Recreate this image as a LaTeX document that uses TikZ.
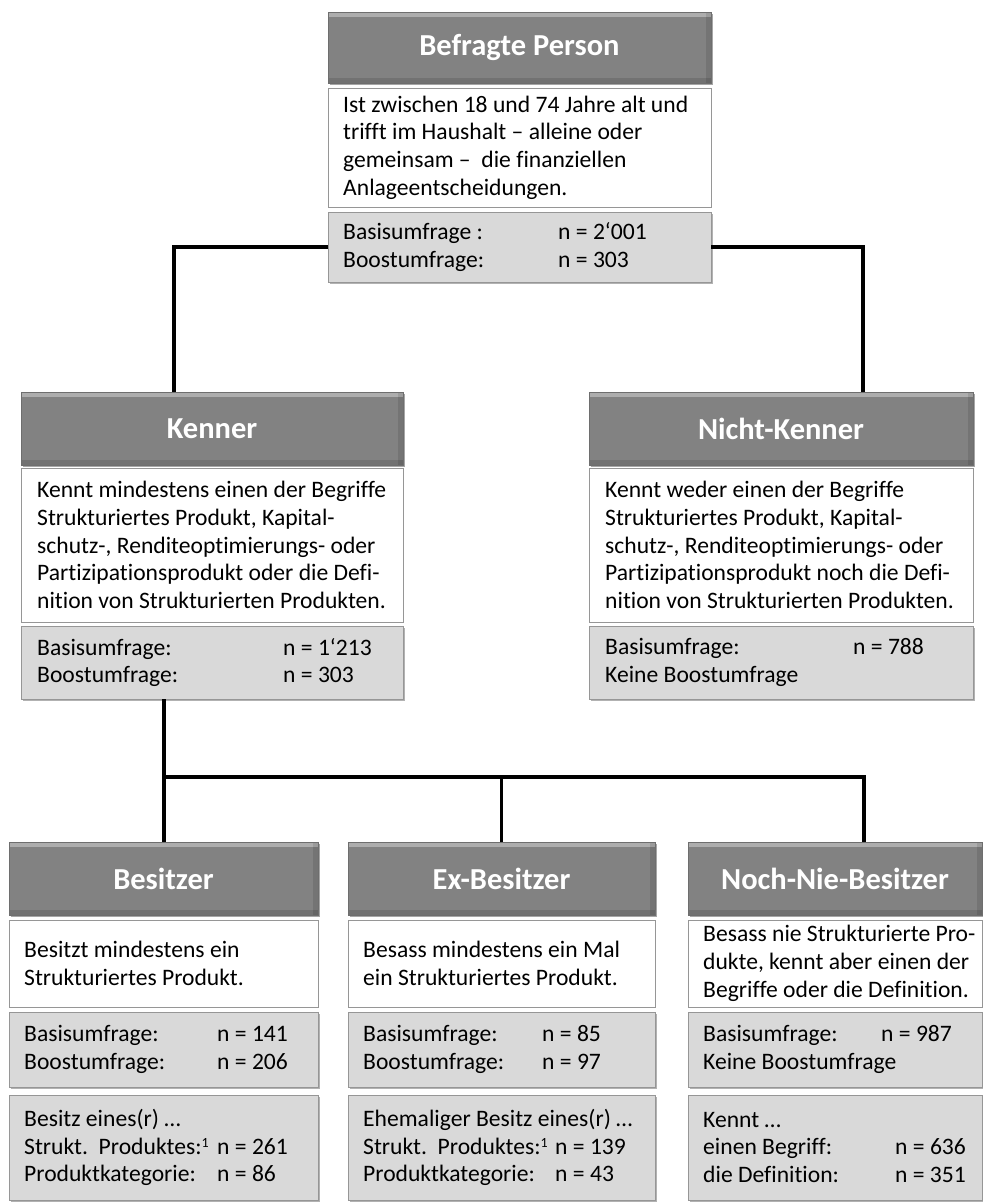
\documentclass[tikz,border=0pt]{standalone}
\usepackage{fontspec}
\setmainfont{Carlito}[Ligatures={TeX,NoCommon}]
\usetikzlibrary{shadows}
\definecolor{hdrfill}{RGB}{130,130,130}
\definecolor{hdrline}{RGB}{110,110,110}
\definecolor{grayfill}{RGB}{217,217,217}
\definecolor{boxline}{RGB}{150,150,150}
\newcommand\mkbox[7]{\node[#2, minimum width={(#5-#3)*1pt}, minimum height={(#6-#4)*1pt}] (#1) at ({(#3+#5)/2},{(#4+#6)/2}) {#7};}
\newcommand\nrow[3]{\makebox[#1][l]{#2}#3}
\newcommand\fnone{\raisebox{7pt}{\fontsize{14}{14}\selectfont 1}}
\tikzset{
  hdr/.style={rectangle, fill=hdrfill, draw=hdrline, line width=0.8pt, text=white,
    font=\fontsize{30.5}{36}\selectfont\bfseries, inner sep=0pt, outer sep=0pt,
    drop shadow={shadow xshift=1.5pt, shadow yshift=-1.5pt, opacity=0.35, fill=black},
    path picture={
      \fill[white,opacity=0.35] (path picture bounding box.north west) rectangle ([yshift=-5pt]path picture bounding box.north east);
      \fill[black,opacity=0.12] ([yshift=5pt]path picture bounding box.south west) rectangle (path picture bounding box.south east);
      \fill[black,opacity=0.10] ([xshift=-5pt]path picture bounding box.north east) rectangle (path picture bounding box.south east);
    }},
  wbox/.style={rectangle, fill=white, draw=boxline, line width=1pt, inner sep=0pt, outer sep=0pt},
  gbox/.style={rectangle, fill=grayfill, draw=boxline, line width=1pt, inner sep=0pt, outer sep=0pt,
    drop shadow={shadow xshift=1.5pt, shadow yshift=-1.5pt, opacity=0.3, fill=black}},
  txt/.style={anchor=west, align=left, inner sep=0pt, font=\fontsize{23.6}{27.7}\selectfont},
  conn/.style={draw=black, line width=3.5pt}
}
\begin{document}
\begin{tikzpicture}[x=1pt,y=-1pt]
\useasboundingbox (0,0) rectangle (983,1203);
\fill[white] (0,0) rectangle (983,1203);

% top: Befragte Person
\mkbox{p-h}{hdr}{328}{12}{711}{83}{Befragte Person}
\mkbox{p-w}{wbox}{328}{88}{711}{207}{}
\mkbox{p-g}{gbox}{328}{212}{711}{282}{}
\node[txt] (p-wt) at ([xshift=15pt]p-w.west) {Ist zwischen 18 und 74 Jahre alt und\\trifft im Haushalt – alleine oder\\gemeinsam –\ \ die finanziellen\\Anlageentscheidungen.};
\node[txt] (p-gt) at ([xshift=15pt]p-g.west) {\nrow{215pt}{Basisumfrage :}{n = 2‘001}\\\nrow{215pt}{Boostumfrage:}{n = 303}};

% Kenner
\mkbox{k-h}{hdr}{21}{392}{403}{465}{Kenner}
\mkbox{k-w}{wbox}{21}{468}{403}{622}{}
\mkbox{k-g}{gbox}{21}{626}{403}{699}{}
\node[txt] (k-wt) at ([xshift=16pt]k-w.west) {Kennt mindestens einen der Begriffe\\Strukturiertes Produkt, Kapital-\\schutz-, Renditeoptimierungs- oder\\Partizipationsprodukt oder die Defi-\\nition von Strukturierten Produkten.};
\node[txt] (k-gt) at ([xshift=16pt]k-g.west) {\nrow{246pt}{Basisumfrage:}{n = 1‘213}\\\nrow{246pt}{Boostumfrage:}{n = 303}};

% Nicht-Kenner
\mkbox{nk-h}{hdr}{589}{392}{973}{465}{Nicht-Kenner}
\mkbox{nk-w}{wbox}{589}{468}{973}{622}{}
\mkbox{nk-g}{gbox}{589}{626}{973}{699}{}
\node[txt] (nk-wt) at ([xshift=16pt]nk-w.west) {Kennt weder einen der Begriffe\\Strukturiertes Produkt, Kapital-\\schutz-, Renditeoptimierungs- oder\\Partizipationsprodukt noch die Defi-\\nition von Strukturierten Produkten.};
\node[txt] (nk-gt) at ([xshift=16pt]nk-g.west) {\nrow{248pt}{Basisumfrage:}{n = 788}\\Keine Boostumfrage};

% Besitzer
\mkbox{b-h}{hdr}{9}{842}{318}{915}{Besitzer}
\mkbox{b-w}{wbox}{9}{920}{318}{1007}{}
\mkbox{b-g}{gbox}{9}{1012}{318}{1087}{}
\mkbox{b-g2}{gbox}{9}{1095}{318}{1200}{}
\node[txt] (b-wt) at ([xshift=15pt]b-w.west) {Besitzt mindestens ein\\Strukturiertes Produkt.};
\node[txt] (b-gt) at ([xshift=15pt]b-g.west) {\nrow{193pt}{Basisumfrage:}{n = 141}\\\nrow{193pt}{Boostumfrage:}{n = 206}};
\node[txt] (b-g2t) at ([xshift=15pt]b-g2.west) {Besitz eines(r) …\\\nrow{193pt}{Strukt.\ \ Produktes:\fnone}{n = 261}\\\nrow{193pt}{Produktkategorie:}{n = 86}};

% Ex-Besitzer
\mkbox{e-h}{hdr}{348}{842}{655}{915}{Ex-Besitzer}
\mkbox{e-w}{wbox}{348}{920}{655}{1007}{}
\mkbox{e-g}{gbox}{348}{1012}{655}{1087}{}
\mkbox{e-g2}{gbox}{348}{1095}{655}{1200}{}
\node[txt] (e-wt) at ([xshift=15pt]e-w.west) {Besass mindestens ein Mal\\ein Strukturiertes Produkt.};
\node[txt] (e-gt) at ([xshift=15pt]e-g.west) {\nrow{179pt}{Basisumfrage:}{n = 85}\\\nrow{179pt}{Boostumfrage:}{n = 97}};
\node[txt] (e-g2t) at ([xshift=15pt]e-g2.west) {Ehemaliger Besitz eines(r) …\\\nrow{192pt}{Strukt.\ \ Produktes:\fnone}{n = 139}\\\nrow{192pt}{Produktkategorie:}{n = 43}};

% Noch-Nie-Besitzer
\mkbox{n-h}{hdr}{688}{842}{982}{915}{Noch-Nie-Besitzer}
\mkbox{n-w}{wbox}{688}{920}{982}{1007}{}
\mkbox{n-g}{gbox}{688}{1012}{982}{1087}{}
\mkbox{n-g2}{gbox}{688}{1095}{982}{1200}{}
\node[txt] (n-wt) at ([xshift=15pt]n-w.west) {Besass nie Strukturierte Pro-\\dukte, kennt aber einen der\\Begriffe oder die Definition.};
\node[txt] (n-gt) at ([xshift=15pt]n-g.west) {\nrow{178pt}{Basisumfrage:}{n = 987}\\Keine Boostumfrage};
\node[txt] (n-g2t) at ([xshift=15pt]n-g2.west) {Kennt …\\\nrow{192pt}{einen Begriff:}{n = 636}\\\nrow{192pt}{die Definition:}{n = 351}};

% connectors
\coordinate (kIn) at ([xshift=153pt]k-h.north west);
\coordinate (nkIn) at ([xshift=274pt]nk-h.north west);
\draw[conn] (p-g.west) -| (kIn);
\draw[conn] (p-g.east) -| (nkIn);
\coordinate (kOut) at ([xshift=143pt]k-g.south west);
\coordinate (bus) at (0,777);
\coordinate (nIn) at ([xshift=176pt]n-h.north west);
\draw[conn] (kOut) -- (kOut |- b-h.north);
\draw[conn] (kOut |- bus) -- (nIn |- bus) -- (nIn);
\draw[conn] (e-h.north |- bus) -- (e-h.north);
\end{tikzpicture}
\end{document}
